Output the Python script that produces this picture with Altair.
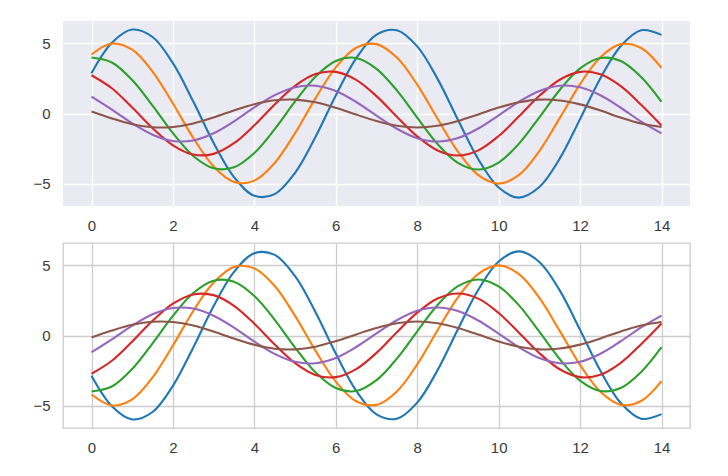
import altair as alt
import pandas as pd

x_vals = [0.0, 0.5, 1.0, 1.5, 2.0, 2.5, 3.0, 3.5, 4.0, 4.5, 5.0, 5.5, 6.0, 6.5, 7.0,
          7.5, 8.0, 8.5, 9.0, 9.5, 10.0, 10.5, 11.0, 11.5, 12.0, 12.5, 13.0, 13.5, 14.0]

# top panel (dark grid)
top_s1 = [2.88, 5.05, 5.99, 5.46, 3.59, 0.85, -2.10, -4.54, -5.87, -5.75, -4.23, -1.68, 1.29, 3.94, 5.63,
          5.94, 4.79, 2.47, -0.45, -3.26, -5.28, -6.00, -5.25, -3.22, -0.40, 2.52, 4.82, 5.94, 5.61]
top_s2 = [4.21, 4.99, 4.55, 2.99, 0.71, -1.75, -3.78, -4.89, -4.79, -3.53, -1.40, 1.08, 3.29, 4.69, 4.95,
          3.99, 2.06, -0.38, -2.72, -4.40, -5.00, -4.38, -2.68, -0.33, 2.10, 4.02, 4.95, 4.67, 3.25]
top_s3 = [3.99, 3.64, 2.39, 0.56, -1.40, -3.03, -3.91, -3.84, -2.82, -1.12, 0.86, 2.63, 3.75, 3.96, 3.19,
          1.65, -0.30, -2.18, -3.52, -4.00, -3.50, -2.15, -0.27, 1.68, 3.22, 3.96, 3.74, 2.60, 0.83]
top_s4 = [2.73, 1.80, 0.42, -1.05, -2.27, -2.93, -2.88, -2.12, -0.84, 0.65, 1.97, 2.81, 2.97, 2.40, 1.24,
          -0.23, -1.63, -2.64, -3.00, -2.63, -1.61, -0.20, 1.26, 2.41, 2.97, 2.80, 1.95, 0.62, -0.86]
top_s5 = [1.20, 0.28, -0.70, -1.51, -1.96, -1.92, -1.41, -0.56, 0.43, 1.31, 1.88, 1.98, 1.60, 0.82, -0.15,
          -1.09, -1.76, -2.00, -1.75, -1.07, -0.13, 0.84, 1.61, 1.98, 1.87, 1.30, 0.41, -0.58, -1.42]
top_s6 = [0.14, -0.35, -0.76, -0.98, -0.96, -0.71, -0.28, 0.22, 0.66, 0.94, 0.99, 0.80, 0.41, -0.08, -0.54,
          -0.88, -1.00, -0.88, -0.54, -0.07, 0.42, 0.80, 0.99, 0.93, 0.65, 0.21, -0.29, -0.71, -0.96]

# bottom panel (white grid)
bot_s1 = [-2.88, -5.05, -5.99, -5.46, -3.59, -0.85, 2.10, 4.54, 5.87, 5.75, 4.23, 1.68, -1.29, -3.94, -5.63,
          -5.94, -4.79, -2.47, 0.45, 3.26, 5.28, 6.00, 5.25, 3.22, 0.40, -2.52, -4.82, -5.94, -5.61]
bot_s2 = [-4.21, -4.99, -4.55, -2.99, -0.71, 1.75, 3.78, 4.89, 4.79, 3.53, 1.40, -1.08, -3.29, -4.69, -4.95,
          -3.99, -2.06, 0.38, 2.72, 4.40, 5.00, 4.38, 2.68, 0.33, -2.10, -4.02, -4.95, -4.67, -3.25]
bot_s3 = [-3.99, -3.64, -2.39, -0.56, 1.40, 3.03, 3.91, 3.84, 2.82, 1.12, -0.86, -2.63, -3.75, -3.96, -3.19,
          -1.65, 0.30, 2.18, 3.52, 4.00, 3.50, 2.15, 0.27, -1.68, -3.22, -3.96, -3.74, -2.60, -0.83]
bot_s4 = [-2.73, -1.80, -0.42, 1.05, 2.27, 2.93, 2.88, 2.12, 0.84, -0.65, -1.97, -2.81, -2.97, -2.40, -1.24,
          0.23, 1.63, 2.64, 3.00, 2.63, 1.61, 0.20, -1.26, -2.41, -2.97, -2.80, -1.95, -0.62, 0.86]
bot_s5 = [-1.20, -0.28, 0.70, 1.51, 1.96, 1.92, 1.41, 0.56, -0.43, -1.31, -1.88, -1.98, -1.60, -0.82, 0.15,
          1.09, 1.76, 2.00, 1.75, 1.07, 0.13, -0.84, -1.61, -1.98, -1.87, -1.30, -0.41, 0.58, 1.42]
bot_s6 = [-0.14, 0.35, 0.76, 0.98, 0.96, 0.71, 0.28, -0.22, -0.66, -0.94, -0.99, -0.80, -0.41, 0.08, 0.54,
          0.88, 1.00, 0.88, 0.54, 0.07, -0.42, -0.80, -0.99, -0.93, -0.65, -0.21, 0.29, 0.71, 0.96]

series_names = ["s1", "s2", "s3", "s4", "s5", "s6"]
series_colors = ["#1f77b4", "#ff7f0e", "#2ca02c", "#d62728", "#9467bd", "#8c564b"]
x_ticks = [0, 2, 4, 6, 8, 10, 12, 14]
y_ticks = [-5, 0, 5]


def to_long(series_list):
    rows = []
    for name, ys in zip(series_names, series_list):
        for xv, yv in zip(x_vals, ys):
            rows.append({"x": xv, "y": yv, "s": name})
    return pd.DataFrame(rows)


top_df = to_long([top_s1, top_s2, top_s3, top_s4, top_s5, top_s6])
bot_df = to_long([bot_s1, bot_s2, bot_s3, bot_s4, bot_s5, bot_s6])

FONT = "Liberation Sans"
LABEL_COLOR = "#3a3a3a"
W, H = 627, 185


def panel(df, bg, grid_color, border_width):
    xax = alt.Axis(values=x_ticks, title=None, grid=True, gridColor=grid_color, gridWidth=1.3,
                   domain=False, ticks=False, tickSize=0, labelPadding=12, labelFontSize=15,
                   labelFont=FONT, labelColor=LABEL_COLOR, labelFlush=False,
                   minExtent=30, maxExtent=30)
    yax = alt.Axis(values=y_ticks, title=None, grid=True, gridColor=grid_color, gridWidth=1.3,
                   domain=False, ticks=False, tickSize=0, labelPadding=13, labelFontSize=15,
                   labelFont=FONT, labelColor=LABEL_COLOR, labelFlush=False,
                   minExtent=54, maxExtent=54)
    return alt.Chart(df).mark_line(strokeWidth=2.1, interpolate="catmull-rom").encode(
        x=alt.X("x:Q", scale=alt.Scale(domain=[-0.7, 14.7], nice=False, zero=False), axis=xax),
        y=alt.Y("y:Q", scale=alt.Scale(domain=[-6.6, 6.6], nice=False, zero=False), axis=yax),
        color=alt.Color("s:N", scale=alt.Scale(domain=series_names, range=series_colors), legend=None),
    ).properties(
        width=W, height=H,
        view=alt.ViewBackground(fill=bg, stroke="#cccccc", strokeWidth=border_width),
    )


top = panel(top_df, "#eaeaf2", "#ffffff", 0)
bottom = panel(bot_df, "#ffffff", "#cccccc", 1.3)

chart = alt.vconcat(top, bottom, spacing=6).properties(
    padding={"left": 0, "top": 13, "right": 10, "bottom": 8},
    background="#ffffff",
)

chart.save("out.html", embed_options={"renderer": "svg", "actions": False})
